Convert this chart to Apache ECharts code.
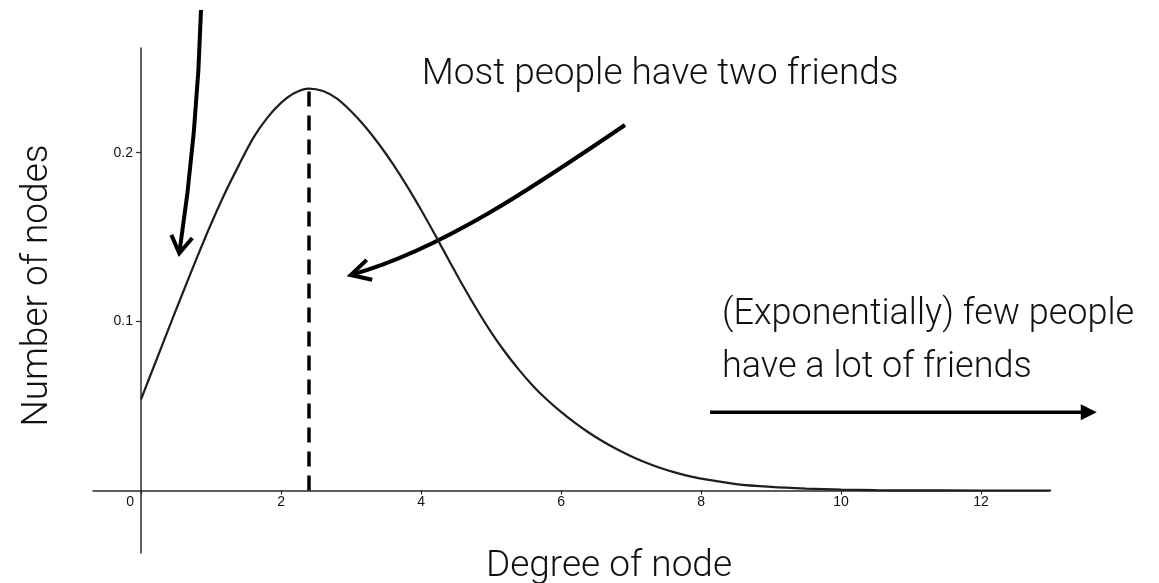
<!DOCTYPE html>
<html>
<head>
<meta charset="utf-8">
<script src="https://cdn.jsdelivr.net/npm/echarts@6/dist/echarts.min.js"></script>
<style>
html,body{margin:0;padding:0;background:#fff}
#chart{width:1159px;height:583px}
</style>
</head>
<body>
<div id="chart"></div>
<script>
// degree distribution
const degree = [0, 0.2, 0.4, 0.6, 0.8, 1, 1.2, 1.4, 1.6, 1.8, 2, 2.2, 2.4, 2.6, 2.8, 3, 3.2, 3.4, 3.6, 3.8, 4, 4.2, 4.4, 4.6, 4.8, 5, 5.2, 5.4, 5.6, 5.8, 6, 6.2, 6.4, 6.6, 6.8, 7, 7.2, 7.4, 7.6, 7.8, 8, 8.5, 9, 9.5, 10, 10.5, 11, 12, 13];
const nodes = [0.0540, 0.0752, 0.0964, 0.1174, 0.1380, 0.1578, 0.1762, 0.1928, 0.2085, 0.2205, 0.2295, 0.2355, 0.2380, 0.2365, 0.2320, 0.2245, 0.2155, 0.2050, 0.1932, 0.1802, 0.1662, 0.1514, 0.1362, 0.1212, 0.1070, 0.0938, 0.0820, 0.0714, 0.0619, 0.0537, 0.0465, 0.0400, 0.0342, 0.0290, 0.0244, 0.0203, 0.0167, 0.0136, 0.0110, 0.0088, 0.0070, 0.0038, 0.0021, 0.0011, 0.0005, 0.0002, 0.0001, 0, 0];
const xTicks = [0, 2, 4, 6, 8, 10, 12];
const yTicks = [0.1, 0.2];
const yTickLabels = ['0.1', '0.2'];
const peakDegree = 2.4;
const peakValue = 0.238;

const xMin = -0.686, xMax = 12.971;
const yMin = -0.037, yMax = 0.262;
const gridW = 956, gridH = 505;

const titleFont = 'Roboto, Inter, "Helvetica Neue", sans-serif';
const tickFont = '"Liberation Sans", Helvetica, Arial, sans-serif';
const ink = '#111';
const axisInk = '#2a2a2a';

const chart = echarts.init(document.getElementById('chart'));

const option = {
    animation: false,
    backgroundColor: '#fff',
    grid: { left: 93, top: 48, width: gridW, height: gridH, containLabel: false, outerBoundsMode: 'none' },
    xAxis: {
        type: 'value',
        min: xMin,
        max: xMax,
        position: 'bottom',
        // axis line sits at y = 0
        offset: -(0 - yMin) / (yMax - yMin) * gridH,
        name: 'Degree of node',
        nameLocation: 'middle',
        nameGap: 58,
        nameMoveOverlap: false,
        nameTextStyle: { fontFamily: titleFont, fontWeight: 300, fontSize: 37, color: ink, padding: [0, 0, 0, 76] },
        axisLine: { onZero: false, lineStyle: { color: axisInk, width: 1.5 } },
        axisTick: { show: true, customValues: xTicks, length: 4, lineStyle: { color: axisInk, width: 1.2 } },
        axisLabel: {
            customValues: xTicks,
            margin: 5,
            fontSize: 14,
            fontFamily: tickFont,
            color: ink,
            formatter: v => v === 0 ? '{z|0}' : String(v),
            rich: { z: { padding: [0, 22, 0, 0], fontSize: 14, fontFamily: tickFont, color: ink } }
        },
        splitLine: { show: false }
    },
    yAxis: {
        type: 'value',
        min: yMin,
        max: yMax,
        position: 'left',
        // axis line sits at x = 0
        offset: -(0 - xMin) / (xMax - xMin) * gridW,
        name: 'Number of nodes',
        nameLocation: 'middle',
        nameRotate: 90,
        nameGap: 85,
        nameMoveOverlap: false,
        nameTextStyle: { fontFamily: titleFont, fontWeight: 300, fontSize: 37, color: ink, padding: [0, 0, 0, 30] },
        axisLine: { onZero: false, lineStyle: { color: axisInk, width: 1.5 } },
        axisTick: { show: true, customValues: yTicks, length: 5, lineStyle: { color: axisInk, width: 1.2 } },
        axisLabel: {
            customValues: yTicks,
            margin: 8,
            fontSize: 14,
            fontFamily: tickFont,
            color: ink,
            formatter: v => yTickLabels[yTicks.indexOf(v)] || ''
        },
        splitLine: { show: false }
    },
    series: [{
        type: 'line',
        data: degree.map((d, i) => [d, nodes[i]]),
        smooth: 0.3,
        symbol: 'none',
        lineStyle: { color: '#1e1e1e', width: 2.2 },
        markLine: {
            silent: true,
            symbol: 'none',
            label: { show: false },
            lineStyle: { color: '#000', width: 3.5, type: [15, 9] },
            data: [[{ coord: [peakDegree, 0] }, { coord: [peakDegree, peakValue] }]]
        }
    }]
};
chart.setOption(option);

// annotations, placed in data coordinates
const notes = [
    { text: 'Most people have two friends', at: [4.01, 0.246], size: 37 },
    { text: '(Exponentially) few people', at: [8.30, 0.104], size: 36 },
    { text: 'have a lot of friends', at: [8.30, 0.0726], size: 36 }
];
const arrowTop = { from: [0.857, 0.2845], ctrl: [[0.807, 0.2124]], to: [0.547, 0.1405] };
const arrowMid = { from: [6.914, 0.2164], ctrl: [[5.629, 0.1802], [4.286, 0.1424]], to: [2.996, 0.1276] };
const arrowRight = { from: [8.129, 0.0464], to: [13.653, 0.0464] };

function px(p) { return chart.convertToPixel({ gridIndex: 0 }, p); }

function chevron(tip, back, len, deg) {
    const a = Math.atan2(back[1] - tip[1], back[0] - tip[0]);
    const r = deg * Math.PI / 180;
    return [
        [tip[0] + len * Math.cos(a + r), tip[1] + len * Math.sin(a + r)],
        tip,
        [tip[0] + len * Math.cos(a - r), tip[1] + len * Math.sin(a - r)]
    ];
}

function curved(ar, head, deg) {
    const p0 = px(ar.from), p2 = px(ar.to);
    const c = ar.ctrl.map(px);
    const shape = { x1: p0[0], y1: p0[1], x2: p2[0], y2: p2[1], cpx1: c[0][0], cpy1: c[0][1] };
    if (c[1]) { shape.cpx2 = c[1][0]; shape.cpy2 = c[1][1]; }
    const back = c[c.length - 1];
    return [
        { type: 'bezierCurve', shape: shape, style: { stroke: '#000', lineWidth: 4, fill: null }, silent: true },
        { type: 'polyline', shape: { points: chevron(p2, back, head, deg) }, style: { stroke: '#000', lineWidth: 4, fill: null, lineJoin: 'miter' }, silent: true }
    ];
}

const g = [];
notes.forEach(n => {
    const p = px(n.at);
    g.push({
        type: 'text', x: p[0], y: p[1], silent: true,
        style: { text: n.text, fill: ink, fontFamily: titleFont, fontWeight: 300, fontSize: n.size, align: 'left', verticalAlign: 'middle' }
    });
});
g.push(...curved(arrowTop, 20, 32));
g.push(...curved(arrowMid, 22, 28));
const s = px(arrowRight.from), e = px(arrowRight.to);
g.push({ type: 'line', shape: { x1: s[0], y1: s[1], x2: e[0] - 14, y2: e[1] }, style: { stroke: '#000', lineWidth: 3.5 }, silent: true });
g.push({ type: 'polygon', shape: { points: [[e[0], e[1]], [e[0] - 16, e[1] - 8], [e[0] - 16, e[1] + 8]] }, style: { fill: '#000' }, silent: true });

chart.setOption({ graphic: g });
</script>
</body>
</html>
